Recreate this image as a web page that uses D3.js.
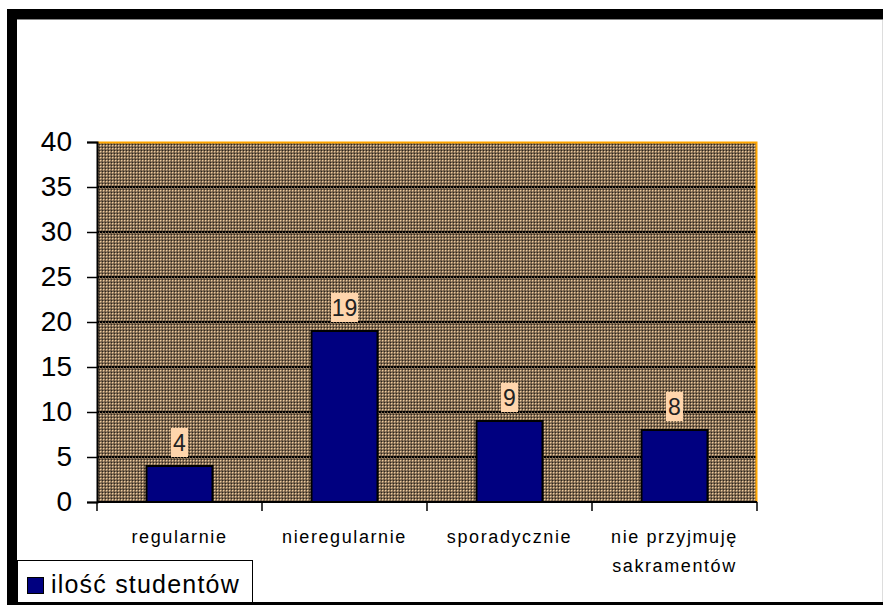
<!DOCTYPE html>
<html>
<head>
<meta charset="utf-8">
<script src="https://cdn.jsdelivr.net/npm/d3@7"></script>
<style>
  body { margin: 0; background: #fff; }
  text { font-family: Arial, "Liberation Sans", sans-serif; }
</style>
</head>
<body>
<svg id="chart" width="883" height="605"></svg>
<script>
const CATEGORIES = [["regularnie"], ["nieregularnie"], ["sporadycznie"], ["nie przyjmuję", "sakramentów"]];
const VALUES = [4, 19, 9, 8];
const Y_TICKS = [0, 5, 10, 15, 20, 25, 30, 35, 40];
const SERIES_NAME = "ilość studentów";

const PLOT = {left: 97, top: 142, right: 757, bottom: 502};

let svg = d3.select("#chart");

// frame
svg.append("rect").attr("x", 7).attr("y", 9).attr("width", 900).attr("height", 10).attr("fill", "#000");
svg.append("rect").attr("x", 7).attr("y", 9).attr("width", 10).attr("height", 600).attr("fill", "#000");
svg.append("line").attr("x1", 17).attr("x2", 883).attr("y1", 19.5).attr("y2", 19.5).attr("stroke", "#888");
svg.append("line").attr("x1", 7).attr("x2", 883).attr("y1", 603.5).attr("y2", 603.5).attr("stroke", "#000").attr("stroke-width", 3);
svg.append("line").attr("x1", 882.5).attr("x2", 882.5).attr("y1", 20).attr("y2", 602).attr("stroke", "#ddd");

// fill pattern of the plot area
let defs = svg.append("defs");
let pat = defs.append("pattern").attr("id", "checker")
              .attr("patternUnits", "userSpaceOnUse")
              .attr("width", 3).attr("height", 3);
pat.append("rect").attr("width", 3).attr("height", 3).attr("fill", "#73604b");
pat.append("rect").attr("x", 1).attr("y", 1).attr("width", 1).attr("height", 1).attr("fill", "#eccba0");
pat.append("rect").attr("x", 0).attr("y", 0).attr("width", 1).attr("height", 1).attr("fill", "#2e261d");
pat.append("rect").attr("x", 2).attr("y", 1).attr("width", 1).attr("height", 1).attr("fill", "#ad8f6c");
pat.append("rect").attr("x", 1).attr("y", 2).attr("width", 1).attr("height", 1).attr("fill", "#ad8f6c");

let x = d3.scaleBand().domain(d3.range(CATEGORIES.length)).range([PLOT.left, PLOT.right]).paddingInner(0.6).paddingOuter(0.3);
let band = d3.scaleBand().domain(d3.range(CATEGORIES.length)).range([PLOT.left, PLOT.right]);
let y = d3.scaleLinear().domain([0, 40]).range([PLOT.bottom, PLOT.top]);

svg.append("rect")
   .attr("x", PLOT.left).attr("y", PLOT.top)
   .attr("width", PLOT.right - PLOT.left).attr("height", PLOT.bottom - PLOT.top)
   .attr("fill", "url(#checker)");

// gridlines
svg.append("g").selectAll("line")
   .data(Y_TICKS.filter(d => d > 0 && d < 40)).enter().append("line")
   .attr("x1", PLOT.left).attr("x2", PLOT.right)
   .attr("y1", d => y(d)).attr("y2", d => y(d))
   .attr("stroke", "#000").attr("stroke-width", 2)
   .attr("stroke-dasharray", "2,1");

// orange border top and right
svg.append("path")
   .attr("d", `M${PLOT.left},${PLOT.top + 0.5}H${PLOT.right - 0.5}V${PLOT.bottom}`)
   .attr("fill", "none").attr("stroke", "#ffa500").attr("stroke-width", 2);

// bars
svg.append("g").selectAll("rect")
   .data(VALUES).enter().append("rect")
   .attr("x", (d, i) => x(i))
   .attr("y", d => y(d))
   .attr("width", x.bandwidth())
   .attr("height", d => y(0) - y(d))
   .attr("fill", "#000080")
   .attr("stroke", "#000").attr("stroke-width", 2);

// y axis
let yAxis = svg.append("g")
   .attr("transform", `translate(${PLOT.left},0)`)
   .call(d3.axisLeft(y).tickValues(Y_TICKS).tickSize(10).tickPadding(15));
yAxis.select(".domain").attr("stroke", "#000").attr("stroke-width", 2);
yAxis.selectAll(".tick line").attr("stroke", "#000").attr("stroke-width", 1.5);
yAxis.selectAll(".tick text").attr("font-size", 28).attr("fill", "#000")
     .attr("font-family", "Arial, 'Liberation Sans', sans-serif");

// x axis
let xAxis = svg.append("g").attr("transform", `translate(0,${PLOT.bottom})`);
xAxis.append("line").attr("x1", PLOT.left).attr("x2", PLOT.right).attr("y1", 0).attr("y2", 0)
     .attr("stroke", "#000").attr("stroke-width", 2);
xAxis.selectAll(".xtick").data(d3.range(CATEGORIES.length + 1)).enter().append("line")
     .attr("x1", i => i < CATEGORIES.length ? band(i) : PLOT.right)
     .attr("x2", i => i < CATEGORIES.length ? band(i) : PLOT.right)
     .attr("y1", 0).attr("y2", 9)
     .attr("stroke", "#000").attr("stroke-width", 1.5);

let catLabels = xAxis.selectAll(".cat").data(CATEGORIES).enter().append("text")
     .attr("text-anchor", "middle").attr("font-size", 18).attr("fill", "#000")
     .attr("letter-spacing", 1.6);
catLabels.selectAll("tspan").data((d, i) => d.map(t => ({t, i}))).enter().append("tspan")
     .attr("x", d => band(d.i) + band.bandwidth() / 2)
     .attr("y", (d, j) => 41 + j * 29)
     .text(d => d.t);

// data labels
let labels = svg.append("g").selectAll("g").data(VALUES).enter().append("g")
     .attr("transform", (d, i) => `translate(${x(i) + x.bandwidth() / 2},${y(d) - 23.5})`);
labels.append("rect").attr("x", d => String(d).length > 1 ? -13.5 : -8.5).attr("y", -14.5)
      .attr("width", d => String(d).length > 1 ? 27 : 17).attr("height", 29)
      .attr("fill", "#ffd5ac");
labels.append("text").attr("text-anchor", "middle").attr("y", 8)
      .attr("font-size", 23).attr("fill", "#222").text(d => d);

// legend
let legend = svg.append("g");
legend.append("rect").attr("x", 17.5).attr("y", 560.5).attr("width", 235).attr("height", 42)
      .attr("fill", "#fff").attr("stroke", "#000");
legend.append("rect").attr("x", 27.5).attr("y", 577.5).attr("width", 16).attr("height", 16)
      .attr("fill", "#000080").attr("stroke", "#000");
legend.append("text").attr("x", 51).attr("y", 593).attr("font-size", 25).attr("fill", "#000")
      .attr("letter-spacing", 1.2).text(SERIES_NAME);
</script>
</body>
</html>
